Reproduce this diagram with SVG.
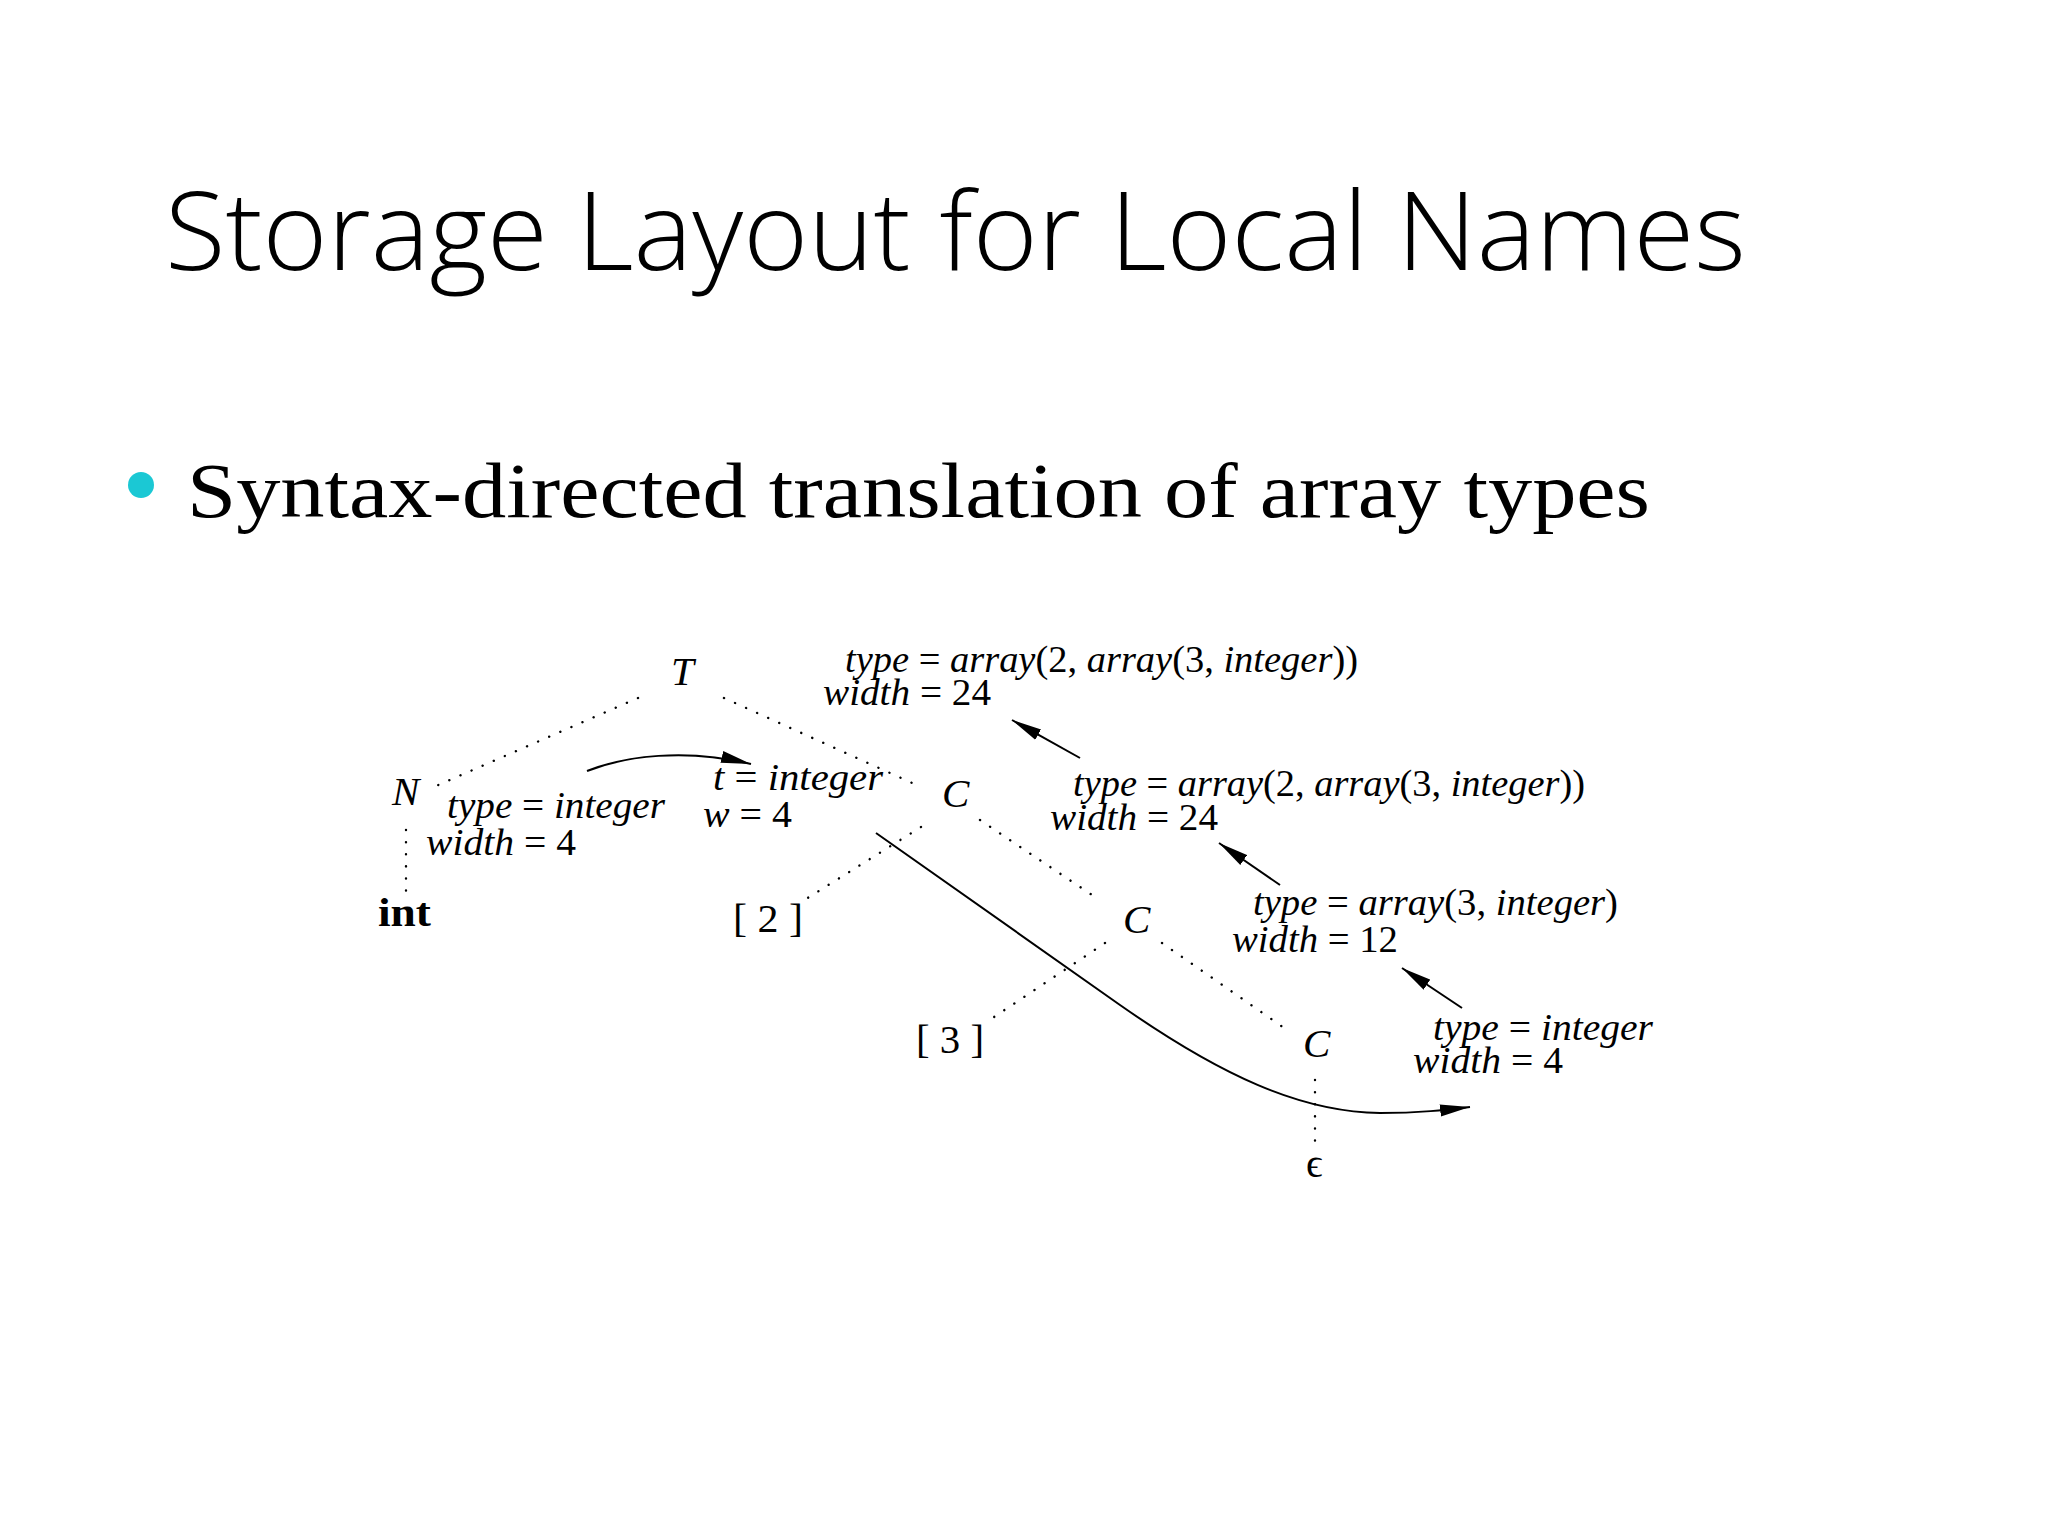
<svg xmlns="http://www.w3.org/2000/svg" width="2048" height="1536" viewBox="0 0 2048 1536">
<style>
.title{font-family:"Open Sans","Liberation Sans",sans-serif;font-weight:300;font-size:109px;fill:#000}
.bullet{font-family:"Liberation Serif","DejaVu Serif",serif;font-size:78px;fill:#000}
.m{font-family:"Liberation Serif","DejaVu Serif",serif;font-size:38px;fill:#000}
.n{font-size:41px}
.i{font-style:italic}
.b{font-weight:bold}
.dot{stroke:#000;stroke-width:2.4;stroke-dasharray:0.1 12;stroke-linecap:round;fill:none}
.conn{stroke:#000;stroke-width:2;fill:none}
</style>
<defs>
<marker id="ah" markerUnits="userSpaceOnUse" markerWidth="32" markerHeight="14" refX="30" refY="7" orient="auto"><path d="M0,1 L30,7 L0,13 Z" fill="#000"/></marker>
</defs>
<rect width="2048" height="1536" fill="#fff"/>
<g id="title"><text class="title" x="165" y="270" textLength="1581" lengthAdjust="spacingAndGlyphs">Storage Layout for Local Names</text></g>
<g id="bullet">
<circle cx="141" cy="485" r="13" fill="#1BC8D4"/>
<text class="bullet" x="187" y="517" textLength="1463" lengthAdjust="spacingAndGlyphs">Syntax-directed translation of array types</text>
</g>
<g id="connectors">
<path class="dot" d="M638,698 L436,786"/>
<path class="dot" d="M724,698 L921,787"/>
<path class="dot" d="M406,830 L406,895"/>
<path class="dot" d="M921,827 L806,899"/>
<path class="dot" d="M980,820 L1098,899"/>
<path class="dot" d="M1105,943 L988,1021"/>
<path class="dot" d="M1162,943 L1290,1032"/>
<path class="dot" d="M1315,1080 L1315,1145"/>
<path class="conn" marker-end="url(#ah)" d="M587,771 C625,756 685,748 751,764"/>
<path class="conn" marker-end="url(#ah)" d="M876,833 L1120,1005 C1220,1075 1300,1112 1380,1113 C1420,1113 1445,1110 1470,1107"/>
<path class="conn" marker-end="url(#ah)" d="M1080,758 L1012,720"/>
<path class="conn" marker-end="url(#ah)" d="M1280,885 L1219,843"/>
<path class="conn" marker-end="url(#ah)" d="M1462,1008 L1402,968"/>
</g>
<g id="node-T"><text class="m n i" x="671" y="685">T</text></g>
<g id="attr-T">
<text class="m" x="845" y="672" textLength="513" lengthAdjust="spacingAndGlyphs"><tspan class="i">type</tspan> = <tspan class="i">array</tspan>(2, <tspan class="i">array</tspan>(3, <tspan class="i">integer</tspan>))</text>
<text class="m" x="823" y="705" textLength="168" lengthAdjust="spacingAndGlyphs"><tspan class="i">width</tspan> = 24</text>
</g>
<g id="node-N"><text class="m n i" x="392" y="805">N</text></g>
<g id="attr-N">
<text class="m" x="447" y="818" textLength="218" lengthAdjust="spacingAndGlyphs"><tspan class="i">type</tspan> = <tspan class="i">integer</tspan></text>
<text class="m" x="426" y="855" textLength="150" lengthAdjust="spacingAndGlyphs"><tspan class="i">width</tspan> = 4</text>
</g>
<g id="attr-tw">
<text class="m" x="713" y="790" textLength="170" lengthAdjust="spacingAndGlyphs"><tspan class="i">t</tspan> = <tspan class="i">integer</tspan></text>
<text class="m" x="703" y="827" textLength="89" lengthAdjust="spacingAndGlyphs"><tspan class="i">w</tspan> = 4</text>
</g>
<g id="node-int"><text class="m n b" x="378" y="926" textLength="53" lengthAdjust="spacingAndGlyphs">int</text></g>
<g id="node-C1"><text class="m n i" x="942" y="807">C</text></g>
<g id="attr-C1">
<text class="m" x="1073" y="796" textLength="512" lengthAdjust="spacingAndGlyphs"><tspan class="i">type</tspan> = <tspan class="i">array</tspan>(2, <tspan class="i">array</tspan>(3, <tspan class="i">integer</tspan>))</text>
<text class="m" x="1050" y="830" textLength="168" lengthAdjust="spacingAndGlyphs"><tspan class="i">width</tspan> = 24</text>
</g>
<g id="node-2"><text class="m n" x="733" y="932" textLength="70" lengthAdjust="spacingAndGlyphs">[ 2 ]</text></g>
<g id="node-C2"><text class="m n i" x="1123" y="933">C</text></g>
<g id="attr-C2">
<text class="m" x="1253" y="915" textLength="365" lengthAdjust="spacingAndGlyphs"><tspan class="i">type</tspan> = <tspan class="i">array</tspan>(3, <tspan class="i">integer</tspan>)</text>
<text class="m" x="1232" y="952" textLength="166" lengthAdjust="spacingAndGlyphs"><tspan class="i">width</tspan> = 12</text>
</g>
<g id="node-3"><text class="m n" x="916" y="1053" textLength="68" lengthAdjust="spacingAndGlyphs">[ 3 ]</text></g>
<g id="node-C3"><text class="m n i" x="1303" y="1057">C</text></g>
<g id="attr-C3">
<text class="m" x="1433" y="1040" textLength="220" lengthAdjust="spacingAndGlyphs"><tspan class="i">type</tspan> = <tspan class="i">integer</tspan></text>
<text class="m" x="1413" y="1073" textLength="150" lengthAdjust="spacingAndGlyphs"><tspan class="i">width</tspan> = 4</text>
</g>
<g id="node-eps"><text class="m n" x="1306" y="1177">ϵ</text></g>
</svg>
